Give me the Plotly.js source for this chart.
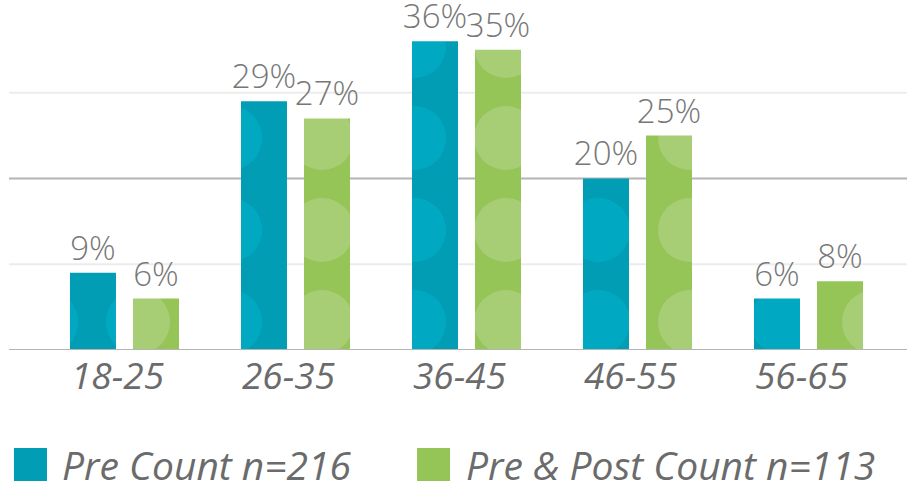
<!DOCTYPE html>
<html>
<head>
<meta charset="utf-8">
<script src="https://cdn.plot.ly/plotly-3.0.1.min.js"></script>
<style>
  html, body { margin: 0; padding: 0; background: #ffffff; }
  #chart { width: 907px; height: 482px; }
</style>
</head>
<body>
<div id="chart"></div>
<script>
// Age groups and share of respondents (%) in each survey group
const ageGroups = ['18-25', '26-35', '36-45', '46-55', '56-65'];
const preCount = [9, 29, 36, 20, 6];
const prePostCount = [6, 27, 35, 25, 8];
const seriesNames = ['Pre Count n=216', 'Pre & Post Count n=113'];
const seriesColors = ['#009db4', '#95c457'];
const bubbleColors = ['#00a9c1', '#a7ce74'];
const gridValues = [10, 20, 30];
const gridColors = ['#ececec', '#b4b4b4', '#ececec'];

const textGray = '#777777';
const labelFont = { family: 'Open Sans, sans-serif', size: 33, color: textGray, weight: 300 };

function barTrace(name, values, color, bubble) {
  return {
    type: 'bar',
    name: name,
    x: ageGroups,
    y: values,
    text: values.map(v => v + '%'),
    textposition: 'outside',
    constraintext: 'none',
    cliponaxis: false,
    textfont: labelFont,
    hoverinfo: 'skip',
    marker: {
      color: color,
      line: { width: 0 },
      pattern: { shape: '.', bgcolor: color, fgcolor: bubble, size: 92, solidity: 0.38, fillmode: 'replace' }
    }
  };
}

const traces = [
  barTrace(seriesNames[0], preCount, seriesColors[0], bubbleColors[0]),
  barTrace(seriesNames[1], prePostCount, seriesColors[1], bubbleColors[1])
];

// horizontal reference lines, drawn under the bars
const shapes = gridValues.map((v, i) => ({
  type: 'line', xref: 'paper', yref: 'y', x0: 0.0099, x1: 1, y0: v, y1: v,
  line: { color: gridColors[i], width: 2 }, layer: 'below'
}));
shapes.push({
  type: 'line', xref: 'paper', yref: 'y', x0: 0.0099, x1: 1, y0: 0, y1: 0,
  line: { color: '#b4b4b4', width: 2 }, layer: 'above'
});

// legend: colour swatches with italic captions below the axis
const legendSwatchX = [[0.0154, 0.0518], [0.4598, 0.4962]];
const legendTextX = [0.0628, 0.5083];
const legendTextWidth = [330, 430];
legendSwatchX.forEach((xs, i) => {
  shapes.push({
    type: 'rect', xref: 'paper', yref: 'paper', x0: xs[0], x1: xs[1], y0: -0.28, y1: -0.374,
    fillcolor: seriesColors[i], line: { width: 0 }
  });
});
const annotations = seriesNames.map((name, i) => ({
  xref: 'paper', yref: 'paper', x: legendTextX[i], y: -0.327,
  xanchor: 'left', yanchor: 'middle', showarrow: false, text: name, borderpad: 4,
  width: legendTextWidth[i], align: 'left',
  font: { family: 'Open Sans, sans-serif', size: 39, color: '#6b6b6b', style: 'italic' }
}));

const layout = {
  width: 907, height: 482,
  margin: { l: 0, r: 0, t: 0, b: 132, pad: 0 },
  paper_bgcolor: '#ffffff', plot_bgcolor: '#ffffff',
  showlegend: false,
  barmode: 'group',
  bargap: 0.263,
  bargroupgap: 0.27,
  xaxis: {
    type: 'category',
    range: [-0.728, 4.576],
    showgrid: false, zeroline: false, showline: false, ticks: '',
    tickfont: { family: 'Open Sans, sans-serif', size: 37, color: '#6b6b6b', style: 'italic' },
    ticklabelshift: -7,
    ticklabelstandoff: 1,
    fixedrange: true
  },
  yaxis: {
    range: [0, 40.8],
    showgrid: false, zeroline: false, showline: false, showticklabels: false, ticks: '',
    fixedrange: true
  },
  shapes: shapes,
  annotations: annotations
};

Plotly.newPlot('chart', traces, layout, { displayModeBar: false, staticPlot: true });
</script>
</body>
</html>
